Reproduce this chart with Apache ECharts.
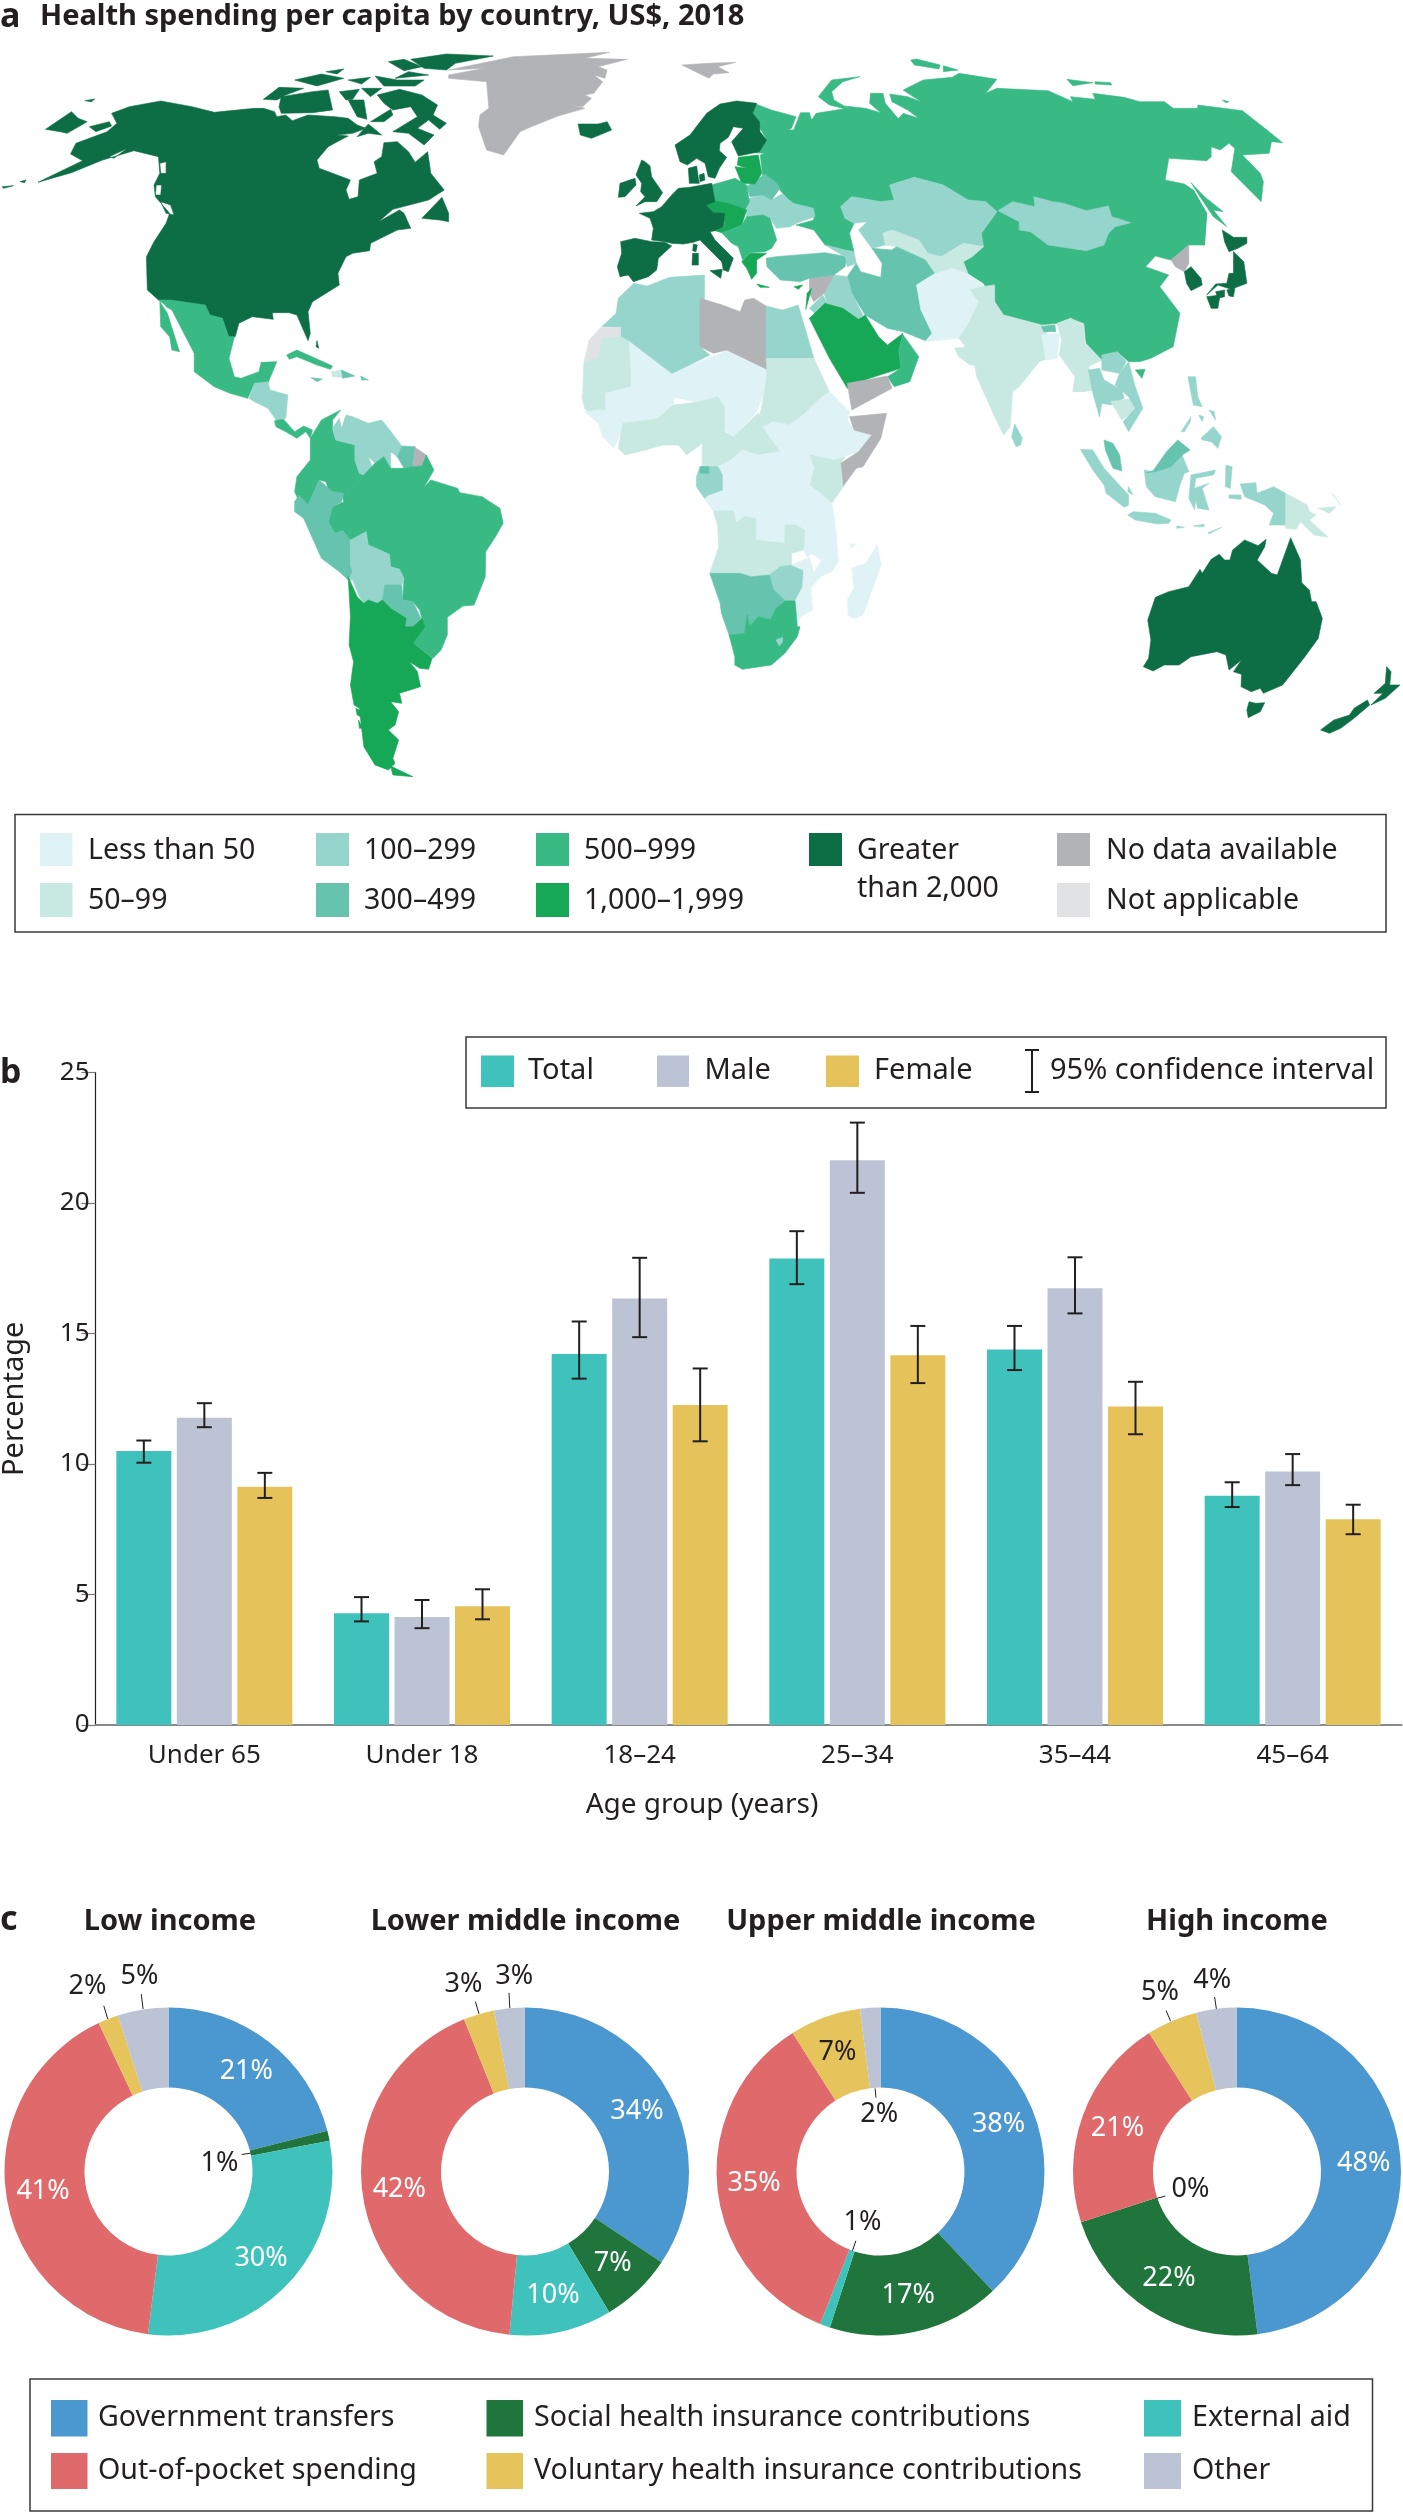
<!DOCTYPE html>
<html><head><meta charset="utf-8">
<style>html,body{margin:0;padding:0;background:#fff}#c{width:1403px;height:2512px}</style>
<script src="https://cdn.jsdelivr.net/npm/echarts@6/dist/echarts.min.js"></script>
</head><body><div id="c"></div>
<script>
// ---------- DATA ----------
const spendingBins = ['Less than 50','50–99','100–299','300–499','500–999','1,000–1,999','Greater than 2,000','No data available','Not applicable'];
const binColors = ['#DFF2F6','#C8E8E2','#96D5CC','#66C4AE','#39BA85','#16A757','#0D6E46','#B1B3B6','#E1E2E4'];

const ageGroups = ['Under 65','Under 18','18–24','25–34','35–44','45–64'];
const totalPct  = [10.5,4.28,14.21,17.87,14.39,8.78];
const malePct   = [11.77,4.14,16.34,21.64,16.73,9.71];
const femalePct = [9.13,4.55,12.26,14.17,12.2,7.88];
const totalLo  = [10.05,3.97,13.27,16.89,13.6,8.35];
const totalHi  = [10.9,4.9,15.46,18.92,15.29,9.3];
const maleLo   = [11.41,3.71,14.86,20.39,15.77,9.19];
const maleHi   = [12.33,4.79,17.9,23.08,17.92,10.38];
const femaleLo = [8.7,4.05,10.87,13.1,11.14,7.31];
const femaleHi = [9.66,5.2,13.66,15.29,13.15,8.44];

const incomeGroups = ['Low income','Lower middle income','Upper middle income','High income'];
const sources = ['Government transfers','Social health insurance contributions','External aid','Out-of-pocket spending','Voluntary health insurance contributions','Other'];
const lowIncome   = [21,1,30,41,2,5];
const lowerMiddle = [34,7,10,42,3,3];
const upperMiddle = [38,17,1,35,7,2];
const highIncome  = [48,22,0,21,5,4];

// Map outlines in the map's own units. Frames: A none, B east, C south, D south-east, E Europe.
const regions = [
 ['Russia',4,[['B',[125,312,160,330,215,350,205,385,185,400,155,370,175,390,210,390,225,338,245,338,250,360,260,340,330,325,345,335,325,318,370,325,405,338,380,310,382,280,410,280,415,310,450,365,435,370,455,340,490,355,465,330,430,305,425,282,465,290,495,305,455,270,500,240,565,232,580,220,665,238,640,280,665,265,780,272,835,305,830,290,885,298,880,280,950,292,985,305,1040,305,1060,325,1115,325,1115,315,1215,332,1270,390,1305,428,1280,425,1275,460,1215,465,1255,520,1262,545,1257,605,1190,515,1198,445,1185,430,1165,450,1145,440,1145,470,1135,482,1050,475,1042,540,1085,552,1105,570,1135,640,1130,735,1000,700,665,635,640,605,600,600,545,555,480,532,425,555,435,600,405,605,340,590,315,620,325,655,345,670,335,700,345,755,325,750,280,735,255,690,215,675,255,660,255,630,210,615,185,580,165,545,140,525,135,465,145,460,120,458,150,420,132,380,118,345]],
   ['B',[265,290,295,240,358,230,320,245,295,275,300,300,345,335,320,325,290,315]],['B',[472,180,485,177,538,195,535,207,480,195]],['B',[545,197,578,210,545,215]],['B',[822,238,880,248,835,257]],['B',[885,245,920,248,922,255,885,252]],['B',[1170,300,1185,305,1178,308]],['B',[1100,548,1130,590,1172,635,1150,630,1180,680,1150,650,1120,590]]]],
 ['China',4,[['B',[665,635,1000,600,1105,570,1135,640,1130,735,1095,735,1055,780,1020,768,998,800,1050,825,1030,860,1075,940,1060,1040,1010,1075,985,1085,960,1085,935,1055,900,1080,865,1030,860,970,830,955,800,970,765,975,680,945,660,905,635,850,600,820,590,785,635,740,630,700]],['B',[975,1110,997,1108,990,1135]]]],
 ['Kazakhstan',2,[['B',[315,620,340,590,405,605,435,600,425,555,480,532,545,555,600,600,640,605,665,635,630,700,635,740,590,730,540,770,510,760,490,720,430,690,410,700,415,735,385,745,355,690,375,665,345,670,325,655]]]],
 ['Mongolia',2,[['B',[668,632,700,605,750,620,748,590,790,605,815,610,865,632,915,618,922,650,965,668,930,680,915,700,905,735,865,752,780,735,740,695,715,690,715,665]]]],
 ['Central Asia',1,[['B',[410,700,430,690,490,720,510,760,540,770,590,730,635,740,610,770,590,785,600,820,520,825,505,780,440,740,415,735]]]],
 ['Iran',3,[['B',[385,745,430,750,440,740,505,780,525,820,485,855,495,930,520,1000,505,1022,455,995,420,985,370,945,340,880,330,830,350,790,360,815,405,832,408,790]]]],
 ['Afghanistan and Pakistan',0,[['B',[485,855,525,822,565,805,600,822,635,855,610,870,625,905,600,975,580,1015,505,1025,520,1000,495,930]]]],
 ['Iraq',2,[['B',[300,825,330,830,340,880,365,945,355,958,320,925,285,910,278,880]]]],
 ['Syria',7,[['B',[245,835,300,825,278,880,255,905,245,880]]]],
 ['Israel',5,[['B',[240,880,250,865,237,928]]]],
 ['Jordan',2,[['B',[245,925,275,885,285,910,265,950]]]],
 ['Saudi Arabia',5,[['B',[245,955,280,910,320,925,355,958,370,945,400,1010,420,1035,455,1000,445,1050,450,1105,380,1135,330,1165,290,1075]]]],
 ['Oman and UAE',4,[['B',[445,1050,455,1005,490,1070,470,1145,435,1160,420,1130,450,1105]]]],
 ['Yemen',7,[['B',[330,1150,420,1128,430,1165,340,1230]]]],
 ['Turkey',3,[['B',[148,775,170,770,280,758,330,770,325,800,300,825,245,835,225,845,180,840,150,800]]]],
 ['Caucasus',2,[['B',[280,735,325,750,345,755,350,790,330,800,325,770]]]],
 ['Ukraine',2,[['E',[448,355,490,345,515,360,545,342,580,370,640,385,645,410,600,425,570,440,530,445,510,415,490,405,440,410,438,385]]]],
 ['Belarus',3,[['E',[440,320,495,282,530,310,540,325,515,360,490,345,450,350]]]],
 ['Baltics',5,[['E',[415,232,475,225,485,280,465,312,425,310,405,260,440,265,412,255]]]],
 ['Poland',4,[['E',[335,315,405,295,440,315,448,365,435,390,385,370,345,365]]]],
 ['Central Europe',5,[['E',[318,375,345,363,385,370,440,390,425,435,390,450,365,458,345,452,372,440,375,400,340,398]]]],
 ['Balkans',4,[['E',[365,458,390,450,425,435,440,410,490,405,510,415,530,480,515,505,495,515,450,518,428,540,415,500,395,490]]]],
 ['Greece',5,[['E',[425,545,450,520,500,520,470,540,470,580,455,598,440,565]],['E',[470,612,508,622,480,622]],['E',[582,620,608,615,595,628]]]],
 ['Fennoscandia',6,[['E',[225,195,270,165,320,100,360,72,410,63,470,70,458,100,478,125,480,155,500,180,478,215,415,228,395,185,430,145,400,140,385,172,360,190,358,212,380,232,358,265,345,295,325,290,315,250,290,235,262,255,240,245]],['E',[265,265,290,258,295,295,298,310,268,310]],['E',[298,285,312,280,315,300,300,305]]]],
 ['Western Europe',6,[['E',[118,400,160,395,185,380,215,345,235,325,270,322,335,310,345,365,318,375,340,398,375,400,370,440,345,452,330,455,345,480,400,535,385,575,370,570,365,545,320,500,300,480,280,487,250,492,215,490,195,485,155,480,160,445,150,415]],['E',[330,572,367,568,362,595]],['E',[278,520,295,520,295,555,276,555]],['E',[280,492,292,495,288,515,278,512]]]],
 ['Iberia',6,[['E',[62,485,105,475,155,485,195,487,215,498,175,535,170,570,145,590,100,605,85,585,60,590,52,560,65,520]]]],
 ['UK',6,[['E',[125,240,135,245,150,258,155,290,188,338,170,365,135,365,108,378,135,350,122,335,125,310,108,285]]]],
 ['Ireland',6,[['E',[60,310,105,295,108,315,75,350,55,352]]]],
 ['Iceland',6,[['A',[1295,372,1340,372,1360,365,1370,390,1325,415,1300,405]]]],
 ['Greenland',7,[['A',[1005,225,1085,205,1005,210,1150,170,1365,157,1310,175,1405,178,1340,200,1360,210,1355,235,1330,225,1350,245,1330,280,1310,285,1325,295,1305,320,1280,315,1310,325,1250,348,1190,380,1165,395,1128,465,1090,450,1072,380,1075,345,1095,325,1090,245,1005,235]]]],
 ['Svalbard',7,[['B',[-40,195,20,190,80,187,40,200,65,218,30,222,20,235,-10,215]]]],
 ['USA and Canada',6,[['A',[85,547,160,518,230,480,300,452,355,470,358,520,345,555,348,590,380,640,372,670,345,725,328,770,330,870,355,900,382,918,455,915,470,945,498,955,512,1010,527,1010,535,970,565,950,612,958,610,938,648,938,665,945,690,1022,695,1000,690,935,700,905,760,855,757,820,775,770,790,760,828,752,830,730,890,690,920,685,905,640,895,630,848,665,880,628,960,600,995,570,965,520,958,455,930,487,915,455,890,425,860,428,855,470,838,485,845,520,805,540,802,590,782,598,775,570,785,540,745,520,715,505,710,480,735,440,770,415,780,408,755,405,790,400,820,385,800,375,780,355,750,350,690,345,655,362,640,345,620,350,615,335,590,325,570,325,480,337,430,320,360,303,290,320,250,340,262,370,240,395,170,430,158,462,185,482]],
   ['A',[945,655,990,592,1005,640,1005,665,985,660]],['A',[590,298,625,262,680,265,640,285,620,300]],['A',[630,290,700,275,735,270,745,330,700,338,630,340,625,320]],['A',[760,275,805,268,790,298,775,300]],['A',[810,265,855,265,830,290]],['A',[780,300,815,300,822,358,800,350]],['A',[845,285,895,268,945,285,980,315,970,345,1000,370,985,388,960,360,935,385,972,405,950,435,915,400,880,395,935,350,920,320,880,330,860,310]],['A',[830,365,875,328,880,345,860,365]],['A',[800,410,825,372,855,405,825,400]],['A',[660,240,720,222,770,235,710,258]],['A',[730,215,770,207,755,222]],['A',[780,240,830,232,810,252]],['A',[840,228,890,240,950,240,930,258,860,258]],['A',[870,185,905,178,945,200,905,212]],['A',[920,178,1000,162,1105,168,1020,190,1000,210,950,205]],['A',[885,235,960,225,915,215]],['A',[350,555,362,555,360,585,348,585]],['A',[360,605,382,615,390,645,372,640]],['A',[358,490,372,485,372,520,360,520]],['A',[200,380,245,365,250,378,215,395]],['A',[102,388,160,335,175,355,195,365,170,385,150,400,135,395]],['A',[190,302,212,297,205,305]],['A',[5,560,30,557,8,565]],['A',[45,545,58,540,55,548]],['A',[245,470,285,445,255,475]],['A',[710,1022,714,1045,708,1040]]]],
 ['Mexico',4,[['A',[355,900,382,900,460,915,470,945,498,955,512,1010,525,1010,513,1075,525,1130,540,1135,580,1115,585,1087,620,1085,600,1150,570,1150,555,1195,515,1180,480,1160,435,1115,435,1060,385,930,372,920,370,915]],['A',[358,905,375,940,402,1055,385,1050,380,1010,360,980]]]],
 ['Central America',2,[['A',[570,1150,600,1145,605,1170,645,1185,640,1255,620,1262,600,1225,570,1205,558,1195]]]],
 ['Costa Rica and Panama',4,[['A',[615,1262,635,1258,660,1295,680,1278,700,1290,695,1315,685,1295,665,1315,640,1295,618,1280]]]],
 ['Cuba',4,[['A',[642,1065,665,1050,745,1098,740,1108,710,1095,665,1070,648,1078]]]],
 ['Haiti',1,[['A',[742,1115,765,1110,765,1132,745,1130]]]],
 ['Caribbean',3,[['A',[765,1110,795,1128,767,1135]],['A',[808,1128,825,1140,810,1140]],['A',[697,1133,722,1137,710,1145]]]],
 ['Colombia and Ecuador',4,[['C',[695,115,720,60,763,30,745,60,745,90,752,120,795,135,795,180,805,220,815,225,775,280,745,310,730,245,715,240,690,315,670,305,660,275,665,230,695,180]]]],
 ['Venezuela and Guyana',2,[['C',[745,85,760,55,765,85,775,45,790,50,825,70,855,60,870,85,900,138,890,170,875,155,875,205,860,170,840,190,825,170,835,205,815,225,805,220,795,180,795,135,752,120]]]],
 ['Suriname',3,[['C',[900,138,930,140,925,200,905,205,890,170]]]],
 ['French Guiana',7,[['C',[930,143,955,165,945,198,925,200]]]],
 ['Brazil',4,[['C',[955,165,972,210,950,262,965,240,1025,265,1030,278,1080,290,1120,325,1127,370,1110,410,1088,455,1087,530,1062,615,1037,618,1002,652,1002,705,988,750,970,775,925,730,952,680,945,655,940,630,925,605,902,600,905,535,895,508,875,500,872,463,825,435,820,395,790,420,768,415,768,392,750,400,735,365,745,320,770,305,765,280,775,280,815,225,840,190,860,170,875,205,905,205,925,200,945,198]]]],
 ['Peru',3,[['C',[660,305,670,285,690,315,715,240,745,275,770,280,765,305,745,320,735,365,750,400,768,392,785,420,785,495,790,515,780,540,760,515,720,475,680,355,660,335]]]],
 ['Bolivia',2,[['C',[785,420,820,395,825,435,872,463,875,500,895,508,905,535,900,555,862,560,857,600,845,610,825,600,815,610,805,590,790,540,780,540,790,515,785,495]]]],
 ['Paraguay',3,[['C',[862,555,900,555,902,600,925,605,943,655,925,680,907,680,910,655,875,625,857,600]]]],
 ['Southern Cone',5,[['C',[780,530,800,590,815,610,825,600,845,610,857,600,875,625,910,655,907,680,925,680,945,655,952,680,925,730,968,775,960,808,940,805,917,785,935,815,942,860,895,880,900,910,875,905,893,935,885,975,870,990,893,1020,880,1075,885,1090,870,1110,840,1095,815,1040,810,985,805,925,793,915,785,855,792,785,782,735,785,650]],['C',[875,1098,925,1130,880,1125]],['C',[797,925,805,930,808,950,800,945]],['C',[803,960,813,985,805,985]]]],
 ['Maghreb',2,[['A',[1420,850,1450,858,1500,832,1578,825,1578,895,1568,1040,1590,1065,1505,1122,1410,1025,1390,1010,1390,982,1348,980,1380,940,1385,895]]]],
 ['Western Sahara',8,[['A',[1345,983,1390,982,1390,1010,1350,1015,1340,1075,1308,1085,1320,1020]]]],
 ['Mauritania',1,[['A',[1308,1085,1340,1075,1350,1015,1390,1010,1410,1025,1415,1160,1355,1180,1305,1190]]]],
 ['Mali',0,[['A',[1410,1025,1505,1122,1510,1185,1430,1200,1405,1230,1355,1230,1355,1180,1415,1160]]]],
 ['Niger',0,[['B',[-63,1122,0,1085,60,1052,60,1120,40,1190,0,1210,-60,1190]]]],
 ['Chad',0,[['B',[60,1052,150,1112,145,1175,125,1240,75,1310,55,1290,55,1225,40,1190,60,1120]]]],
 ['Libya',7,[['B',[0,895,50,915,90,935,100,900,120,895,148,918,152,1110,60,1050,30,1060,0,1040]]]],
 ['Egypt',2,[['B',[148,918,185,930,220,915,255,1075,148,1075]]]],
 ['Sudan',1,[['B',[148,1075,255,1075,290,1175,270,1215,240,1240,220,1275,170,1280,135,1240,145,1175,150,1110]]]],
 ['Senegal',1,[['A',[1303,1190,1355,1180,1355,1235,1345,1275,1310,1225]]]],
 ['Burkina Faso',0,[['A',[1355,1230,1405,1230,1430,1200,1510,1185,1508,1215,1475,1255,1395,1270]]]],
 ['Guinea',0,[['A',[1310,1235,1340,1230,1390,1235,1395,1265,1390,1300,1375,1345,1350,1310,1340,1270]]]],
 ['Ivory Coast and Ghana',1,[['A',[1395,1270,1450,1260,1475,1255,1485,1335,1440,1352,1400,1365,1385,1345]]]],
 ['Nigeria',1,[['D',[-60,15,0,5,40,-10,55,20,55,95,35,70,5,130,-30,165,-48,135,-83,135,-93,55]]]],
 ['Central African Republic',1,[['D',[35,70,55,95,75,110,130,40,165,65,180,155,130,165,95,150,70,180,40,200,5,200,5,130]]]],
 ['Ethiopia',0,[['D',[140,80,165,65,200,75,235,40,265,0,290,-25,335,35,330,60,345,90,385,105,355,155,320,170,300,180,245,165,215,175,180,155]]]],
 ['Somalia',7,[['D',[335,50,418,40,405,115,365,200,350,205,320,260,315,190,355,155,385,105,345,90]]]],
 ['Kenya',1,[['D',[245,165,300,180,325,170,315,190,320,262,295,310,270,280,245,255,255,205]]]],
 ['DR Congo and Tanzania',0,[['D',[70,180,95,150,130,165,180,155,215,175,245,165,255,205,245,255,270,280,295,310,300,345,305,405,265,430,250,460,240,470,232,450,235,390,215,375,190,375,190,430,125,420,125,355,100,350,80,368,75,333,30,333,10,295,50,270,50,225,40,200]]]],
 ['Gabon and Congo',2,[['D',[0,200,40,200,50,225,50,270,20,285,10,295,-8,260,-8,230]]]],
 ['Equatorial Guinea',3,[['D',[0,200,20,200,20,220,0,220]]]],
 ['Angola and Zambia',1,[['D',[30,333,75,333,80,368,100,350,125,355,125,420,190,430,205,460,205,495,180,500,155,525,115,530,90,520,22,520,42,440,40,380]]]],
 ['Malawi',1,[['D',[190,375,215,375,235,390,232,450,205,460,190,430]]]],
 ['Zimbabwe',2,[['D',[155,525,180,500,205,495,232,510,230,560,215,605,190,600,165,570]]]],
 ['Mozambique',0,[['D',[250,435,305,405,310,485,295,515,270,530,248,565,252,630,225,650,217,675,213,603,230,560,232,510,205,495,245,472,255,520,272,480,250,460]]]],
 ['Namibia and Botswana',3,[['D',[22,520,90,520,115,530,155,525,165,570,190,600,170,625,158,658,130,650,112,678,105,645,100,700,65,705,48,640,45,610]]]],
 ['South Africa',4,[['D',[65,705,100,700,105,645,112,678,130,650,158,658,170,625,190,602,213,603,218,680,224,680,218,710,190,760,160,795,95,808,78,795,78,770]]]],
 ['Lesotho',2,[['D',[170,720,185,712,185,725,178,738]]]],
 ['Madagascar',0,[['D',[397,435,406,495,365,645,345,657,332,645,330,600,345,565,340,505,372,490]],['D',[335,432,348,432,340,443]]]],
 ['India',1,[['B',[605,870,630,860,660,855,660,905,680,945,765,975,795,975,775,1000,780,1075,760,1085,715,1160,700,1175,695,1280,680,1305,660,1250,620,1130,615,1095,605,1095,580,1070,570,1045,595,1040,580,1015,600,975,625,905]]]],
 ['Nepal',3,[['B',[765,980,795,975,797,995,770,995]]]],
 ['Bangladesh',0,[['B',[765,1005,805,1000,800,1075,775,1080]]]],
 ['Myanmar',1,[['B',[800,970,830,955,860,975,862,1030,900,1080,870,1100,890,1190,895,1250,880,1170,860,1175,835,1175,840,1130,805,1065,810,1020]]]],
 ['Laos',2,[['B',[900,1065,935,1055,955,1085,940,1120,900,1110]]]],
 ['Thailand',2,[['B',[870,1110,895,1105,905,1140,945,1170,950,1195,920,1215,900,1210,895,1250,880,1180]]]],
 ['Cambodia',1,[['B',[920,1205,970,1195,975,1230,945,1260]]]],
 ['Vietnam',2,[['B',[940,1120,960,1085,975,1160,992,1225,960,1295,948,1265,975,1225,960,1190,930,1155]]]],
 ['North Korea',7,[['B',[1095,735,1095,790,1085,815,1065,800,1055,780]]]],
 ['South Korea',6,[['B',[1085,815,1100,800,1122,835,1125,855,1100,872,1090,850]]]],
 ['Japan',6,[['B',[1170,690,1195,712,1225,712,1225,730,1205,745,1185,755,1175,725]],['B',[1195,755,1218,785,1225,850,1190,868,1160,855,1135,885,1155,852,1180,850,1185,820,1195,820]],['B',[1135,890,1165,885,1160,925,1145,925]],['B',[1155,875,1175,870,1175,890,1160,895]],['B',[1180,870,1198,865,1195,890,1185,888]]]],
 ['Philippines',2,[['B',[1093,1130,1110,1130,1115,1190,1125,1220,1105,1215,1100,1180]],['D',[1122,115,1150,80,1168,110,1160,145,1145,125,1125,120]],['B',[1078,1295,1100,1250,1098,1265,1085,1295]],['B',[1117,1245,1128,1250,1125,1265]],['B',[1140,1230,1152,1235,1155,1260]]]],
 ['Sri Lanka',2,[['D',[705,72,722,115,718,135,708,140,698,110]]]],
 ['Indonesia',2,[['D',[852,148,880,150,905,205,960,285,960,315,950,322,910,280,905,255,880,210]],['D',[995,210,1015,215,1040,170,1080,165,1095,215,1085,220,1075,255,1065,305,1020,290,1000,260]],['D',[1100,225,1155,210,1150,225,1110,235,1108,265,1140,250,1125,265,1140,330,1115,325,1110,300,1108,330,1095,295]],['D',[958,345,970,335,1020,340,1055,360,1050,370,1025,372,975,360]],['D',[1068,378,1085,382,1068,385]],['D',[1105,378,1130,373,1128,380]],['D',[1138,398,1168,382,1140,402]],['D',[1178,195,1192,200,1188,265,1177,260]],['D',[1185,285,1212,285,1212,298,1185,295]],['D',[1210,252,1245,248,1248,280,1285,260,1312,280,1312,375,1275,375,1285,340,1265,315,1220,290]],['D',[960,260,970,285,958,275]]]],
 ['Malaysia',3,[['D',[905,120,925,130,940,165,945,213,925,205,908,150]],['D',[1015,212,1045,155,1070,120,1098,150,1080,165,1055,200,1020,215,1000,218]]]],
 ['Papua New Guinea',1,[['D',[1312,280,1360,315,1365,335,1380,345,1365,360,1407,412,1375,405,1345,365,1335,388,1312,385]],['D',[1385,325,1425,320,1410,340]],['D',[1415,280,1435,315,1430,305]]]],
 ['Australia',6,[['D',[1003,660,1020,592,1050,575,1095,560,1120,508,1125,520,1145,478,1163,463,1175,480,1187,480,1193,450,1220,420,1250,437,1268,418,1265,440,1248,480,1280,520,1293,525,1323,413,1345,480,1348,548,1365,570,1370,605,1380,605,1394,655,1385,715,1355,770,1305,855,1262,880,1255,865,1235,875,1212,860,1213,823,1195,815,1213,780,1185,810,1178,765,1158,755,1100,770,1073,795,1040,795,1015,813,993,800,1005,775,1010,720]],['D',[1230,905,1245,910,1265,908,1255,935,1228,953,1225,930]]]],
 ['New Zealand',6,[['D',[1390,990,1420,960,1455,945,1465,925,1495,900,1500,915,1465,955,1435,985,1410,1000]],['D',[1503,915,1530,880,1510,880,1535,850,1538,800,1548,815,1545,855,1568,855,1535,895]]]]
];

// ---------- BUILD ----------
const FONT = '"Noto Sans"';
const INK = '#231F20';
const frames = {A:[0,0,1],B:[1568,0,1],C:[0,1200,1],D:[1568,1200,1],E:[1344,240,0.7467]};
function ring(frame, flat){
  const o = frames[frame], out = [];
  for(let i=0;i<flat.length;i+=2) out.push([flat[i]*o[2]+o[0],flat[i+1]+o[1]]);
  out.push(out[0].slice());
  return out;
}
const worldGeo = {type:'FeatureCollection',features:regions.map(([name,,parts])=>({
  type:'Feature',properties:{name},
  geometry:{type:'MultiPolygon',coordinates:parts.map(([f,p])=>[ring(f,p)])}
}))};
echarts.registerMap('spendingWorld', worldGeo);

const chart = echarts.init(document.getElementById('c'),null,{renderer:'canvas'});

const barColors = {Total:'#40C2BC',Male:'#BBC3D4',Female:'#E5C35A'};
const sourceColors = ['#4B97D0','#1F753C','#40C2BC','#E06A6B','#E6C45C','#BBC3D4'];

const BAR_W=55, BAR_STEP=60.5;
function errSeries(lo,hi,offset){
  return {type:'custom',xAxisIndex:0,yAxisIndex:0,z:5,silent:true,
    data:lo.map((v,i)=>[i,v,hi[i]]),encode:{x:0,y:[1,2]},
    renderItem(params,api){
      const x=api.coord([api.value(0),0])[0]+offset;
      const yl=api.coord([0,api.value(1)])[1], yh=api.coord([0,api.value(2)])[1];
      const st={stroke:INK,lineWidth:2,fill:null};
      return {type:'group',children:[
        {type:'line',shape:{x1:x,y1:yl,x2:x,y2:yh},style:st},
        {type:'line',shape:{x1:x-7.5,y1:yl,x2:x+7.5,y2:yl},style:st},
        {type:'line',shape:{x1:x-7.5,y1:yh,x2:x+7.5,y2:yh},style:st}]};
    }};
}
function barSeries(name,vals){
  return {type:'bar',name,data:vals,barWidth:BAR_W,barGap:'10%',silent:true,itemStyle:{color:barColors[name]}};
}

// donut label placement, relative to each donut's centre
const callouts = [
 {4:{l:[-81,-185],p:[[-64.7,-165.7],[-60.7,-152.4]]},5:{l:[-29,-195],p:[[-27.2,-177.4],[-25.4,-162.5]]},1:{l:[51,-8.5],p:[[73.2,-17],[83,-18.5]]}},
 {4:{l:[-61.6,-187.5],p:[[-49.6,-169.8],[-46,-157.7]]},5:{l:[-10.7,-195],p:[[-16,-178.6],[-15.2,-163.3]]}},
 {5:{l:[-1.3,-57.6],p:[[-5.4,-83],[-4.5,-73.8]]},2:{l:[-18,51.2],p:[[-24.7,69.3],[-28.3,80.2]]}},
 {4:{l:[-77,-179.4],p:[[-70.9,-161],[-66.4,-150.3]]},5:{l:[-24.7,-191.5],p:[[-22.4,-174.5],[-20.6,-162.4]]},2:{l:[-46.6,18.1],p:[[-71.7,24.6],[-80.7,27]]}}
];
const donutX=[168.5,525,880.5,1237], donutY=2171.5;
const darkInside = {2:{4:1}};
function pieSeries(vals,idx){
  const cx=donutX[idx], cy=donutY, co=callouts[idx];
  return {type:'pie',center:[cx,cy],radius:[84,164],startAngle:90,clockwise:true,silent:true,
    avoidLabelOverlap:false,stillShowZeroSum:true,
    label:{show:true,position:'inside',formatter:p=>p.value+'%',color:'#fff',fontFamily:FONT,fontSize:27},
    labelLine:{show:false},
    labelLayout(p){
      const c=co[p.dataIndex];
      if(!c) return {};
      return {x:cx+c.l[0],y:cy+c.l[1],align:'center',verticalAlign:'middle',
        labelLinePoints:[[cx+c.p[0][0],cy+c.p[0][1]],[cx+c.p[1][0],cy+c.p[1][1]],[cx+c.p[1][0],cy+c.p[1][1]]]};
    },
    data:vals.map((v,i)=>{
      const d={name:sources[i],value:v,itemStyle:{color:sourceColors[i]}};
      if(co[i]){d.label={position:'outside',color:INK};d.labelLine={show:true,length:4,length2:4,lineStyle:{color:INK,width:1}};}
      if(darkInside[idx]&&darkInside[idx][i]) d.label={color:INK};
      return d;
    })};
}

// legends & frames
const g=[];
function box(x0,y0,x1,y1){g.push({type:'rect',silent:true,shape:{x:x0,y:y0,width:x1-x0,height:y1-y0},style:{fill:'none',stroke:'#3a3a3c',lineWidth:1.5}});}
function swatch(x0,y0,x1,y1,c){g.push({type:'rect',silent:true,shape:{x:x0,y:y0,width:x1-x0,height:y1-y0},style:{fill:c}});}
function txt(s,x,y,size){g.push({type:'text',silent:true,style:{text:s,x,y,fill:INK,font:`${size}px ${FONT}`,align:'left',verticalAlign:'middle'}});}

// map legend
const MS=28.5;
box(15,814.5,1386,932);
[[0,40,72.5,88,851,833,866],[1,40,72.5,88,901,883,917],[2,316,349,364,851,833,866],[3,316,349,364,901,883,917],[4,536,569,584,851,833,866],[5,536,569,584,901,883,917],[6,809,842,857,851,833,866],[7,1057,1090,1106,851,833,866],[8,1057,1090,1106,901,883,917]]
 .forEach(([b,x0,x1,tx,ty,y0,y1])=>{swatch(x0,y0,x1,y1,binColors[b]);
   if(b!==6) txt(spendingBins[b],tx,ty,MS);});
txt('Greater',857,851,MS); txt('than 2,000',857,889,MS);

// bar legend
box(466,1037,1386,1108);
swatch(481,1055.5,514,1087,barColors.Total); txt('Total',528,1071,29);
swatch(657,1055.5,689,1087,barColors.Male); txt('Male',704.5,1071,29);
swatch(826,1055.5,859,1087,barColors.Female); txt('Female',874,1071,29);
[[1032,1050,1032,1092],[1025,1050,1039,1050],[1025,1092,1039,1092]].forEach(s=>g.push({type:'line',silent:true,shape:{x1:s[0],y1:s[1],x2:s[2],y2:s[3]},style:{stroke:INK,lineWidth:2}}));
txt('95% confidence interval',1050,1071,29);

// donut legend
box(30,2379,1372.5,2511);
[[0,51,87.5,98,2400,2436.5,2418],[3,51,87.5,98,2453,2489,2471],[1,486.5,523,534,2400,2436.5,2418],[4,486.5,523,534,2453,2489,2471],[2,1144,1181,1192,2400,2436.5,2418],[5,1144,1181,1192,2453,2489,2471]]
 .forEach(([i,x0,x1,tx,y0,y1,ty])=>{swatch(x0,y0,x1,y1,sourceColors[i]);txt(sources[i],tx,ty,28.6);});

const boldTitle=(text,left,top,size,align)=>({text,left,top,textAlign:align||'left',textVerticalAlign:'middle',padding:0,
  textStyle:{fontFamily:FONT,fontWeight:'bold',fontSize:size,color:INK}});

chart.setOption({
  animation:false,
  backgroundColor:'#fff',
  title:[
    boldTitle('a',0,17,34),
    boldTitle('Health spending per capita by country, US$, 2018',40,17,29),
    boldTitle('b',0,1073,34),
    boldTitle('c',0,1920,34),
    ...incomeGroups.map((t,i)=>boldTitle(t,[170,525.5,881,1237][i],1921.5,29,'center'))
  ],
  grid:{left:95.5,top:1072.5,width:1306,height:652.5,containLabel:false,outerBoundsMode:'none'},
  xAxis:{type:'category',data:ageGroups,name:'Age group (years)',nameLocation:'middle',nameGap:66,
    nameTextStyle:{fontFamily:FONT,fontSize:28,color:INK,padding:[0,93,0,0]},
    axisTick:{show:false},axisLine:{lineStyle:{color:'#888a8c',width:2}},
    axisLabel:{fontFamily:FONT,fontSize:26,color:INK,margin:18,interval:0}},
  yAxis:{type:'value',min:0,max:25,interval:5,name:'Percentage',nameLocation:'middle',nameGap:66,nameRotate:90,
    nameTextStyle:{fontFamily:FONT,fontSize:29,color:INK},
    splitLine:{show:false},axisLine:{show:true,lineStyle:{color:INK,width:1.2}},
    axisTick:{show:true,length:14,lineStyle:{color:'#77797b',width:1.2}},
    axisLabel:{fontFamily:FONT,fontSize:26,color:INK,margin:6}},
  visualMap:{show:false,type:'piecewise',seriesIndex:0,dimension:0,
    pieces:binColors.map((c,i)=>({value:i,color:c}))},
  series:[
    {type:'map',map:'spendingWorld',silent:true,
     projection:{project:p=>[p[0]/2.24,p[1]/3],unproject:p=>[p[0]*2.24,p[1]*3]},
     boundingCoords:[[0,0],[1403*2.24,800*3]],left:0,top:0,width:1403,height:800,
     label:{show:false},
     itemStyle:{borderWidth:0.6,borderColor:'rgba(255,255,255,0)'},
     data:regions.map(([name,bin])=>({name,value:bin,itemStyle:{borderColor:binColors[bin],borderWidth:0.6}}))},
    barSeries('Total',totalPct),barSeries('Male',malePct),barSeries('Female',femalePct),
    errSeries(totalLo,totalHi,-BAR_STEP),errSeries(maleLo,maleHi,0),errSeries(femaleLo,femaleHi,BAR_STEP),
    pieSeries(lowIncome,0),pieSeries(lowerMiddle,1),pieSeries(upperMiddle,2),pieSeries(highIncome,3)
  ],
  graphic:{elements:g}
});
</script></body></html>
